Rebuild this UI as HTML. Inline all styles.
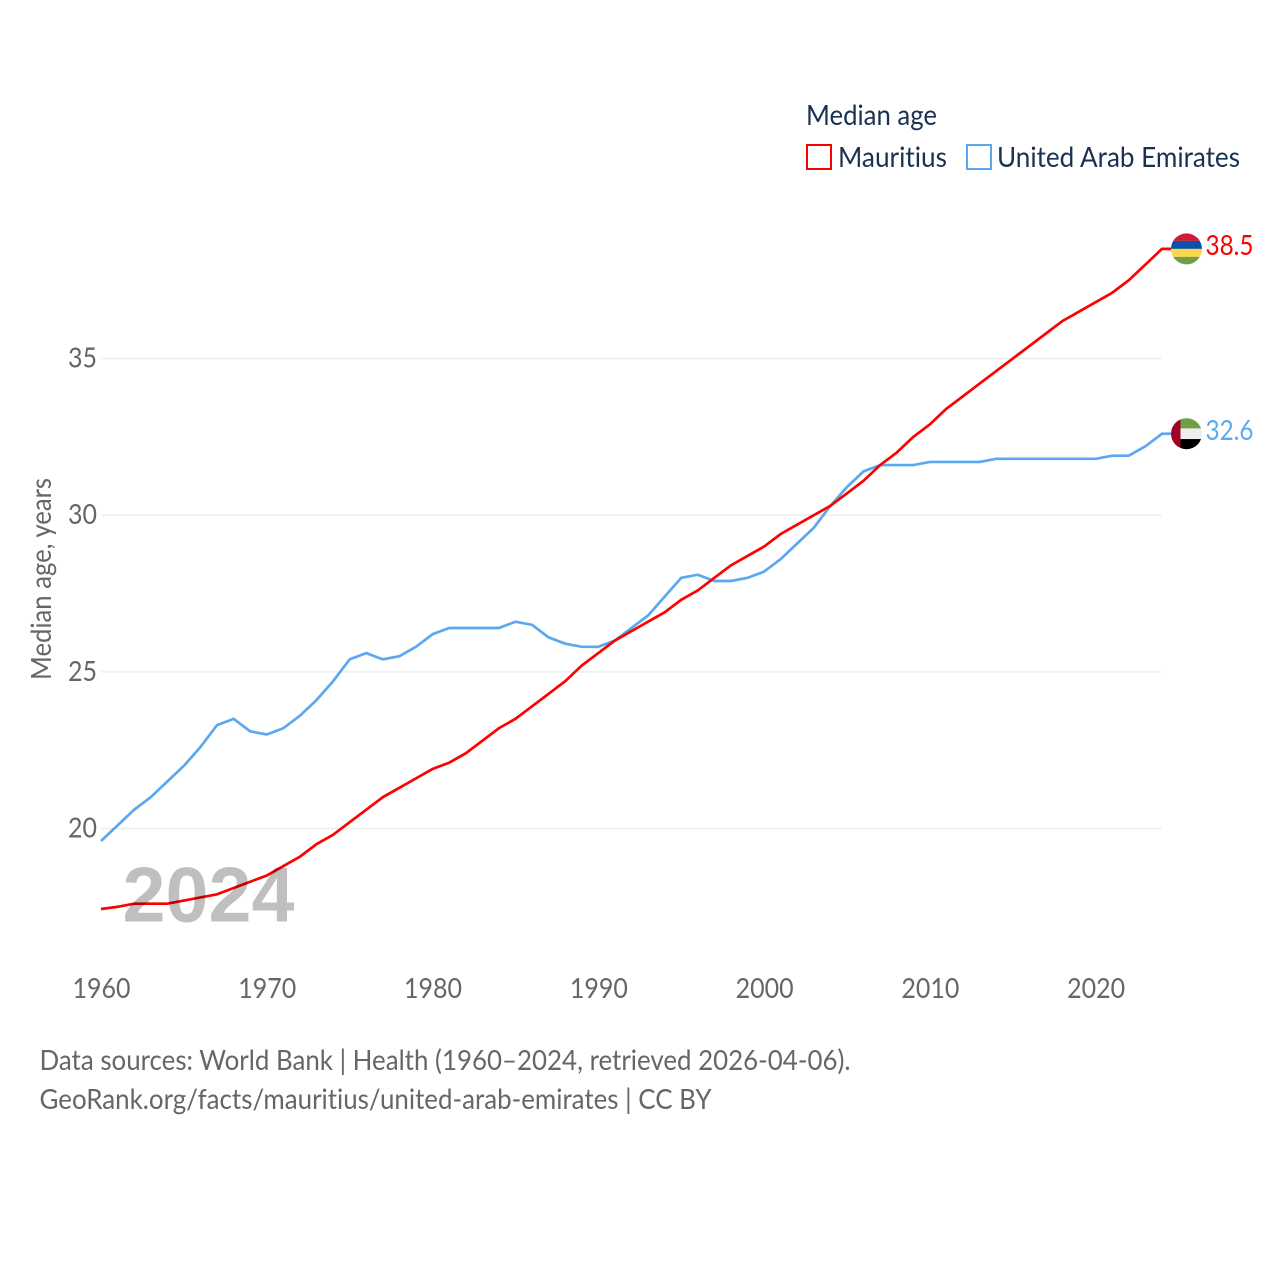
<!DOCTYPE html>
<html lang="en">
<head>
<meta charset="utf-8">
<title>Median age: Mauritius and United Arab Emirates</title>
<style>
html,body{margin:0;padding:0;background:#fff;}
svg{display:block;}
text{font-family:"Lato","Carlito","Liberation Sans",sans-serif;font-variant-ligatures:none;}
</style>
</head>
<body>
<svg id="chart" xmlns="http://www.w3.org/2000/svg" width="1280" height="1280" viewBox="0 0 1280 1280">
  <rect width="1280" height="1280" fill="#ffffff"/>
  <defs>
    <clipPath id="flag-clip"><circle cx="0" cy="0" r="15.5"/></clipPath>
  </defs>
  <g id="grid"></g>
  <g id="yticks"></g>
  <g id="xticks"></g>
  <text transform="translate(51,680) rotate(-90)" font-size="28" fill="#666666" textLength="202" lengthAdjust="spacingAndGlyphs">Median age, years</text>

  <g>
    <text x="806" y="125" font-size="28" fill="#1a3152" textLength="131" lengthAdjust="spacingAndGlyphs">Median age</text>
    <g>
      <rect x="807" y="145" width="24" height="24" fill="none" stroke="#ff0000" stroke-width="2"/>
      <text x="838" y="167" font-size="28" fill="#1a3152" textLength="109" lengthAdjust="spacingAndGlyphs">Mauritius</text>
    </g>
    <g>
      <rect x="967" y="145" width="24" height="24" fill="none" stroke="#5ba8f0" stroke-width="2"/>
      <text x="997" y="167" font-size="28" fill="#1a3152" textLength="243" lengthAdjust="spacingAndGlyphs">United Arab Emirates</text>
    </g>
  </g>

  <g id="series"></g>

  <g id="flag-mu">
    <g clip-path="url(#flag-clip)">
      <rect x="-16" y="-16" width="32" height="8" fill="#d11a35"/>
      <rect x="-16" y="-8" width="32" height="8" fill="#0a52a8"/>
      <rect x="-16" y="0" width="32" height="8" fill="#fbd54c"/>
      <rect x="-16" y="8" width="32" height="8" fill="#6fa044"/>
    </g>
  </g>
  <g id="flag-ae">
    <g clip-path="url(#flag-clip)">
      <rect x="-6" y="-16" width="22" height="10.7" fill="#6fa044"/>
      <rect x="-6" y="-5.3" width="22" height="10.6" fill="#eeeeee"/>
      <rect x="-6" y="5.3" width="22" height="10.7" fill="#000000"/>
      <rect x="-16" y="-16" width="10" height="32" fill="#a30026"/>
    </g>
  </g>

  <g id="endlabels"></g>

  <text x="122.5" y="921.5" font-family="'Liberation Sans',sans-serif" style="font-family:'Liberation Sans',sans-serif" font-weight="700" font-size="78" fill="#000000" fill-opacity="0.25" textLength="172" lengthAdjust="spacingAndGlyphs">2024</text>

  <g>
    <text x="39.5" y="1070" font-size="28" fill="#666666" textLength="811" lengthAdjust="spacingAndGlyphs">Data sources: World Bank | Health (1960–2024, retrieved 2026-04-06).</text>
    <text x="39.5" y="1109" font-size="28" fill="#666666" textLength="672" lengthAdjust="spacingAndGlyphs">GeoRank.org/facts/mauritius/united-arab-emirates | CC BY</text>
  </g>
</svg>
<script>
const startYear = 1960;
const xTickLabels = [1960, 1970, 1980, 1990, 2000, 2010, 2020];
const yTickLabels = [20, 25, 30, 35];
const mauritiusValues = [17.43,17.5,17.6,17.6,17.6,17.7,17.8,17.9,18.1,18.3,18.5,18.8,19.1,19.5,19.8,20.2,20.6,21.0,21.3,21.6,21.9,22.1,22.4,22.8,23.2,23.5,23.9,24.3,24.7,25.2,25.6,26.0,26.3,26.6,26.9,27.3,27.6,28.0,28.4,28.7,29.0,29.4,29.7,30.0,30.3,30.7,31.1,31.6,32.0,32.5,32.9,33.4,33.8,34.2,34.6,35.0,35.4,35.8,36.2,36.5,36.8,37.1,37.5,38.0,38.5];
const uaeValues = [19.6,20.1,20.6,21.0,21.5,22.0,22.6,23.3,23.5,23.1,23.0,23.2,23.6,24.1,24.7,25.4,25.6,25.4,25.5,25.8,26.2,26.4,26.4,26.4,26.4,26.6,26.5,26.1,25.9,25.8,25.8,26.0,26.4,26.8,27.4,28.0,28.1,27.9,27.9,28.0,28.2,28.6,29.1,29.6,30.3,30.9,31.4,31.6,31.6,31.6,31.7,31.7,31.7,31.7,31.8,31.8,31.8,31.8,31.8,31.8,31.8,31.9,31.9,32.2,32.6];

const NS = 'http://www.w3.org/2000/svg';
function xScale(year) { return 101 + (year - 1960) * 16.578; }
function yScale(v) { return 828.5 - (v - 20) * 31.33; }

const grid = document.getElementById('grid');
const yticks = document.getElementById('yticks');
yTickLabels.forEach(function (t) {
  const line = document.createElementNS(NS, 'line');
  
  
  line.setAttribute('x1', 101);
  line.setAttribute('x2', 1161.5);
  line.setAttribute('y1', yScale(t));
  line.setAttribute('y2', yScale(t));
  line.setAttribute('stroke', '#eeeeee');
  line.setAttribute('stroke-width', '1.5');
  grid.appendChild(line);

  const label = document.createElementNS(NS, 'text');
  
  
  label.setAttribute('x', 97);
  label.setAttribute('y', yScale(t) + 9);
  label.setAttribute('text-anchor', 'end');
  label.setAttribute('font-size', '28');
  label.setAttribute('fill', '#666666');
  label.setAttribute('textLength', '29');
  label.setAttribute('lengthAdjust', 'spacingAndGlyphs');
  label.textContent = t;
  yticks.appendChild(label);
});

const xticks = document.getElementById('xticks');
xTickLabels.forEach(function (t) {
  const label = document.createElementNS(NS, 'text');
  
  
  label.setAttribute('x', xScale(t) + 0.5);
  label.setAttribute('y', 998);
  label.setAttribute('text-anchor', 'middle');
  label.setAttribute('font-size', '28');
  label.setAttribute('fill', '#666666');
  label.setAttribute('textLength', '58');
  label.setAttribute('lengthAdjust', 'spacingAndGlyphs');
  label.textContent = t;
  xticks.appendChild(label);
});

function linePoints(values) {
  const pts = values.map(function (v, i) {
    return xScale(startYear + i).toFixed(2) + ',' + yScale(v).toFixed(2);
  });
  pts.push('1171,' + yScale(values[values.length - 1]).toFixed(2));
  return pts.join(' ');
}

const series = document.getElementById('series');

const uaeLine = document.createElementNS(NS, 'polyline');


uaeLine.setAttribute('points', linePoints(uaeValues));
uaeLine.setAttribute('fill', 'none');
uaeLine.setAttribute('stroke', '#5ba8f0');
uaeLine.setAttribute('stroke-width', '2.7');
series.appendChild(uaeLine);

const muLine = document.createElementNS(NS, 'polyline');


muLine.setAttribute('points', linePoints(mauritiusValues));
muLine.setAttribute('fill', 'none');
muLine.setAttribute('stroke', '#ff0000');
muLine.setAttribute('stroke-width', '2.7');
series.appendChild(muLine);

const muLast = mauritiusValues[mauritiusValues.length - 1];
const uaeLast = uaeValues[uaeValues.length - 1];
document.getElementById('flag-mu').setAttribute('transform', 'translate(1186.5,' + yScale(muLast) + ')');
document.getElementById('flag-ae').setAttribute('transform', 'translate(1186.5,' + yScale(uaeLast) + ')');

const endlabels = document.getElementById('endlabels');

const muLabel = document.createElementNS(NS, 'text');


muLabel.setAttribute('x', 1205.5);
muLabel.setAttribute('y', yScale(muLast) + 6);
muLabel.setAttribute('font-size', '28');
muLabel.setAttribute('fill', '#ff0000');
muLabel.setAttribute('textLength', '48');
muLabel.setAttribute('lengthAdjust', 'spacingAndGlyphs');
muLabel.textContent = muLast.toFixed(1);
endlabels.appendChild(muLabel);

const uaeLabel = document.createElementNS(NS, 'text');


uaeLabel.setAttribute('x', 1205.5);
uaeLabel.setAttribute('y', yScale(uaeLast) + 6.5);
uaeLabel.setAttribute('font-size', '28');
uaeLabel.setAttribute('fill', '#5ba8f0');
uaeLabel.setAttribute('textLength', '48');
uaeLabel.setAttribute('lengthAdjust', 'spacingAndGlyphs');
uaeLabel.textContent = uaeLast.toFixed(1);
endlabels.appendChild(uaeLabel);
</script>
</body>
</html>
